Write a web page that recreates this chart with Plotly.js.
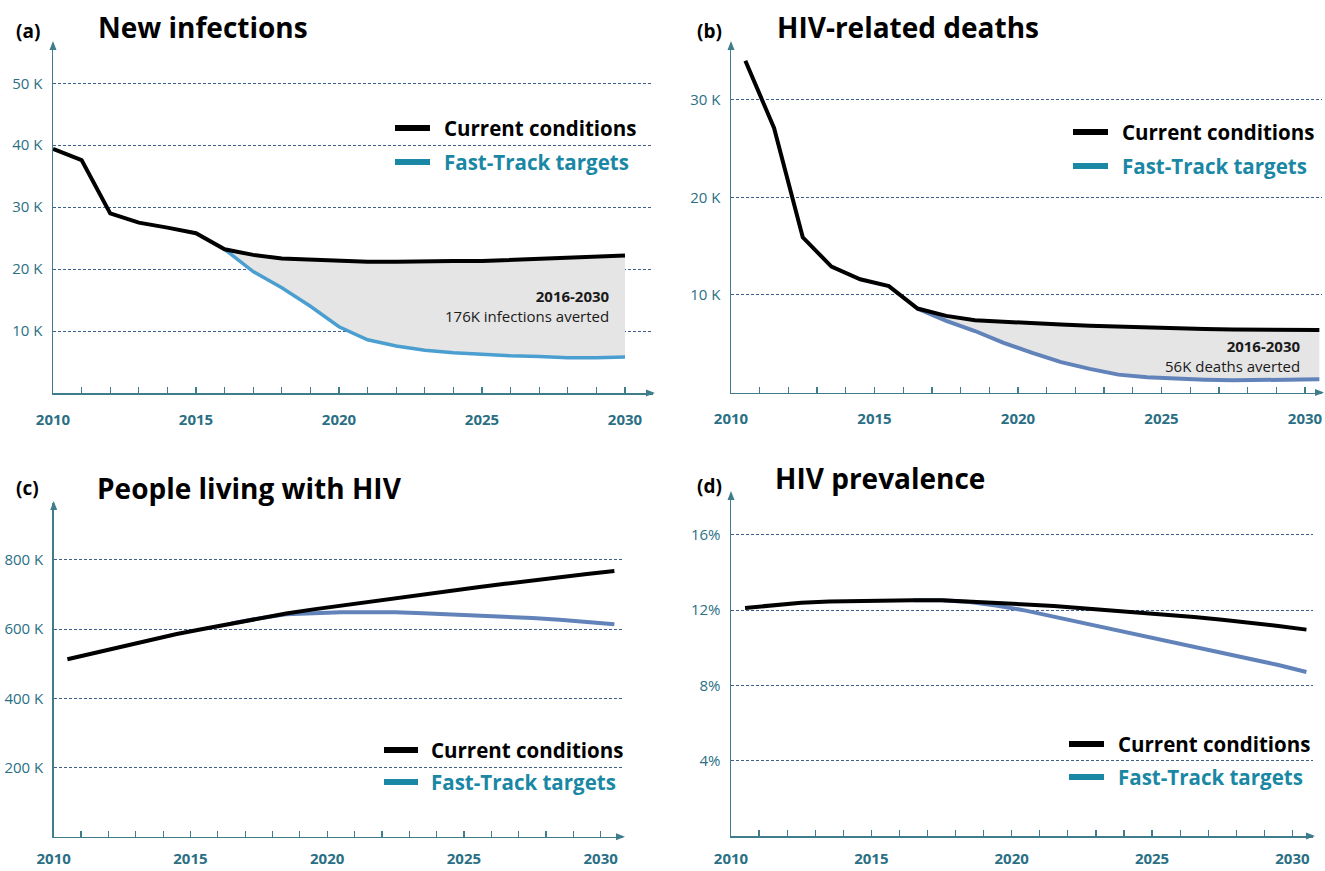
<!DOCTYPE html>
<html>
<head>
<meta charset="utf-8">
<script src="https://cdn.plot.ly/plotly-3.0.1.min.js"></script>
<style>html,body{margin:0;padding:0;background:#fff}#chart{width:1325px;height:871px}</style>
</head>
<body>
<div id="chart"></div>
<script>
// ---------------- DATA ----------------
const years = [2010,2011,2012,2013,2014,2015,2016,2017,2018,2019,2020,2021,2022,2023,2024,2025,2026,2027,2028,2029,2030];
const fastYears = [2016,2017,2018,2019,2020,2021,2022,2023,2024,2025,2026,2027,2028,2029,2030];
const xTickVals = [2010,2015,2020,2025,2030];
const xTickText = ["2010","2015","2020","2025","2030"];

// (a) New infections, thousands
const infCurrent = [39.4,37.6,29.0,27.5,26.7,25.8,23.2,22.3,21.7,21.5,21.3,21.2,21.2,21.3,21.3,21.3,21.5,21.7,21.8,22.0,22.2];
const infFast    = [23.2,19.6,17.0,14.0,10.7,8.6,7.6,6.9,6.5,6.2,6.0,5.9,5.7,5.7,5.8];
const infTickVals = [10,20,30,40,50];
const infTickText = ["10 K","20 K","30 K","40 K","50 K"];

// (b) HIV-related deaths, thousands
const deathCurrent = [34.0,27.1,15.9,12.9,11.6,10.9,8.6,7.85,7.4,7.23,7.16,6.96,6.85,6.75,6.64,6.55,6.5,6.46,6.43,6.41,6.4];
const deathFast    = [8.6,7.34,6.3,5.09,4.05,3.11,2.42,1.83,1.56,1.42,1.31,1.25,1.25,1.28,1.35];
const deathTickVals = [10,20,30];
const deathTickText = ["10 K","20 K","30 K"];

// (c) People living with HIV, thousands
const plhivCurrent = [513,532,551,569,586,601,616,631,645,657,668,679,690,701,711,721,731,741,750,759,768];
const plhivFast    = [616,631,643,647,649,649,649,646,643,639,636,632,627,621,614];
const plhivTickVals = [200,400,600,800];
const plhivTickText = ["200 K","400 K","600 K","800 K"];

// (d) HIV prevalence, percent
const prevCurrent = [12.11,12.25,12.39,12.45,12.48,12.52,12.52,12.52,12.46,12.38,12.30,12.22,12.11,11.99,11.89,11.77,11.63,11.49,11.34,11.15,10.96];
const prevFast    = [12.52,12.52,12.43,12.23,11.97,11.65,11.31,11.01,10.69,10.35,10.05,9.72,9.41,9.08,8.71];
const prevTickVals = [4,8,12,16];
const prevTickText = ["4%","8%","12%","16%"];

const titles = ["New infections","HIV-related deaths","People living with HIV","HIV prevalence"];
const letters = ["(a)","(b)","(c)","(d)"];
const legendNames = ["Current conditions","Fast-Track targets"];
const avertedLabels = [["2016-2030","176K infections averted"],["2016-2030","56K deaths averted"]];

// ---------------- STYLE / LAYOUT ----------------
const W = 1325, H = 871;
const X = p => p / W, Y = p => 1 - p / H;
const FONT = "'Open Sans', Lato, sans-serif";
const AXIS = "#3f7d8d", TICKTXT = "#2a6f84", GRID = "#3d5f8a";
const BLACK = "#000000", LEGTEAL = "#1a87a5", FILL = "#e5e5e5";
const BLUE_A = "#4a9fd0", BLUE_B = "#6283ba";

const xs = (arr, off) => arr.map(v => v + off);

const panels = [
  {cur: infCurrent, fast: infFast, off: 0,   tv: infTickVals,   tt: infTickText,   fill: true,  blue: BLUE_A, sto: 12,
   xd: [53, 653],  yd: [43, 393],  xr: [2010, 2010 + 600/28.6], yr: [0, 350/6.194],
   title: [96, 27], letter: [14, 31], leg: [395, 430, 442, 128, 162], note: [612, 305.5]},
  {cur: deathCurrent, fast: deathFast, off: 0.5, tv: deathTickVals, tt: deathTickText, fill: true, blue: BLUE_B, sto: 12,
   xd: [731, 1322], yd: [43, 392.5], xr: [2010, 2010 + 591/28.7], yr: [0, 349.5/9.76],
   title: [775, 27], letter: [695, 31], leg: [1073, 1108, 1120, 132, 166], note: [1303, 355.5]},
  {cur: plhivCurrent, fast: plhivFast, off: 0.5, tv: plhivTickVals, tt: plhivTickText, fill: false, blue: BLUE_B, sto: 8,
   xd: [53.7, 623], yd: [503, 836.7], xr: [2010, 2010 + 569.3/27.35], yr: [0, 333.7/0.346],
   title: [95, 488], letter: [14, 488], leg: [384, 418, 429, 750, 782]},
  {cur: prevCurrent, fast: prevFast, off: 0.5, tv: prevTickVals, tt: prevTickText, fill: false, blue: BLUE_B, sto: 8,
   xd: [731, 1313], yd: [493, 836], xr: [2010, 2010 + 582/28.07], yr: [0, 343/18.83],
   title: [773, 478], letter: [695, 486], leg: [1069, 1104, 1116, 744, 777]}
];

const traces = [];
const layout = {
  width: W, height: H, margin: {l: 0, r: 0, t: 0, b: 0},
  paper_bgcolor: "#fff", plot_bgcolor: "rgba(0,0,0,0)",
  showlegend: false, font: {family: FONT},
  annotations: [], shapes: []
};

panels.forEach((p, i) => {
  const n = i === 0 ? "" : String(i + 1);
  const xa = "x" + n, ya = "y" + n;
  const curX = xs(years, p.off), fastX = xs(fastYears, p.off);
  const startIdx = years.indexOf(fastYears[0]);
  const curSlice = p.cur.slice(startIdx);

  if (p.fill) {
    traces.push({x: fastX, y: curSlice, xaxis: xa, yaxis: ya, mode: "lines",
                 line: {width: 0, color: "rgba(0,0,0,0)"}, hoverinfo: "skip"});
    traces.push({x: fastX, y: p.fast, xaxis: xa, yaxis: ya, mode: "lines", fill: "tonexty",
                 fillcolor: FILL, line: {width: 0, color: "rgba(0,0,0,0)"}, hoverinfo: "skip"});
  }
  traces.push({x: fastX, y: p.fast, xaxis: xa, yaxis: ya, mode: "lines", name: legendNames[1],
               line: {color: p.blue, width: i === 0 ? 3.5 : 4}});
  traces.push({x: curX, y: p.cur, xaxis: xa, yaxis: ya, mode: "lines", name: legendNames[0],
               line: {color: BLACK, width: 4}});

  layout["xaxis" + n] = {
    domain: [X(p.xd[0]), X(p.xd[1])], range: p.xr, anchor: ya,
    showline: true, linecolor: AXIS, linewidth: 1.5, zeroline: false, showgrid: false,
    tickmode: "array", tickvals: xTickVals, ticktext: xTickText,
    ticks: "inside", ticklen: 6, tickwidth: 1.2, tickcolor: AXIS,
    minor: {dtick: 1, tick0: 2010, ticks: "inside", ticklen: 6, tickwidth: 1.2, tickcolor: AXIS, showgrid: false},
    tickfont: {family: FONT, size: 15, color: TICKTXT, weight: 700},
    ticklabelstandoff: p.sto, fixedrange: true
  };
  layout["yaxis" + n] = {
    domain: [Y(p.yd[1]), Y(p.yd[0])], range: p.yr, anchor: xa,
    showline: true, linecolor: AXIS, linewidth: 1.5, zeroline: false,
    showgrid: true, gridcolor: GRID, gridwidth: 1, griddash: "3px,2px",
    tickmode: "array", tickvals: p.tv, ticktext: p.tt, ticks: "",
    tickfont: {family: FONT, size: 15, color: TICKTXT},
    ticklabelstandoff: 6, fixedrange: true
  };

  // axis arrowheads
  const ax0 = p.xd[0], axR = p.xd[1], ayB = p.yd[1], ayT = p.yd[0];
  layout.shapes.push({type: "path", xref: "paper", yref: "paper", fillcolor: AXIS, line: {width: 0},
    path: `M ${X(ax0)},${Y(ayT - 2)} L ${X(ax0 - 3.5)},${Y(ayT + 7)} L ${X(ax0 + 3.5)},${Y(ayT + 7)} Z`});
  layout.shapes.push({type: "path", xref: "paper", yref: "paper", fillcolor: AXIS, line: {width: 0},
    path: `M ${X(axR + 2)},${Y(ayB)} L ${X(axR - 7)},${Y(ayB - 3.5)} L ${X(axR - 7)},${Y(ayB + 3.5)} Z`});

  // titles
  layout.annotations.push({xref: "paper", yref: "paper", x: X(p.title[0]), y: Y(p.title[1]),
    xanchor: "left", yanchor: "middle", showarrow: false, text: "<b>" + titles[i] + "</b>",
    font: {family: FONT, size: 28, color: "#000"}});
  layout.annotations.push({xref: "paper", yref: "paper", x: X(p.letter[0]), y: Y(p.letter[1]),
    xanchor: "left", yanchor: "middle", showarrow: false, text: "<b>" + letters[i] + "</b>",
    font: {family: FONT, size: 19, color: "#000"}});

  // legend (drawn)
  const [l0, l1, tx, yC, yF] = p.leg;
  layout.shapes.push({type: "line", xref: "paper", yref: "paper", x0: X(l0), x1: X(l1), y0: Y(yC), y1: Y(yC),
    line: {color: BLACK, width: 6}});
  layout.shapes.push({type: "line", xref: "paper", yref: "paper", x0: X(l0), x1: X(l1), y0: Y(yF), y1: Y(yF),
    line: {color: LEGTEAL, width: 6}});
  layout.annotations.push({xref: "paper", yref: "paper", x: X(tx), y: Y(yC), xanchor: "left", yanchor: "middle",
    showarrow: false, text: "<b>" + legendNames[0] + "</b>", font: {family: FONT, size: 20.5, color: BLACK}});
  layout.annotations.push({xref: "paper", yref: "paper", x: X(tx), y: Y(yF), xanchor: "left", yanchor: "middle",
    showarrow: false, text: "<b>" + legendNames[1] + "</b>", font: {family: FONT, size: 20.5, color: LEGTEAL}});

  // averted note
  if (p.note) {
    const lbl = avertedLabels[i];
    layout.annotations.push({xref: "paper", yref: "paper", x: X(p.note[0]), y: Y(p.note[1]), xanchor: "right",
      yanchor: "middle", align: "right", showarrow: false,
      text: "<b>" + lbl[0] + "</b><br>" + lbl[1], font: {family: FONT, size: 15, color: "#1a1a1a"}});
  }
});

Plotly.newPlot("chart", traces, layout, {displayModeBar: false, staticPlot: true});
</script>
</body>
</html>
